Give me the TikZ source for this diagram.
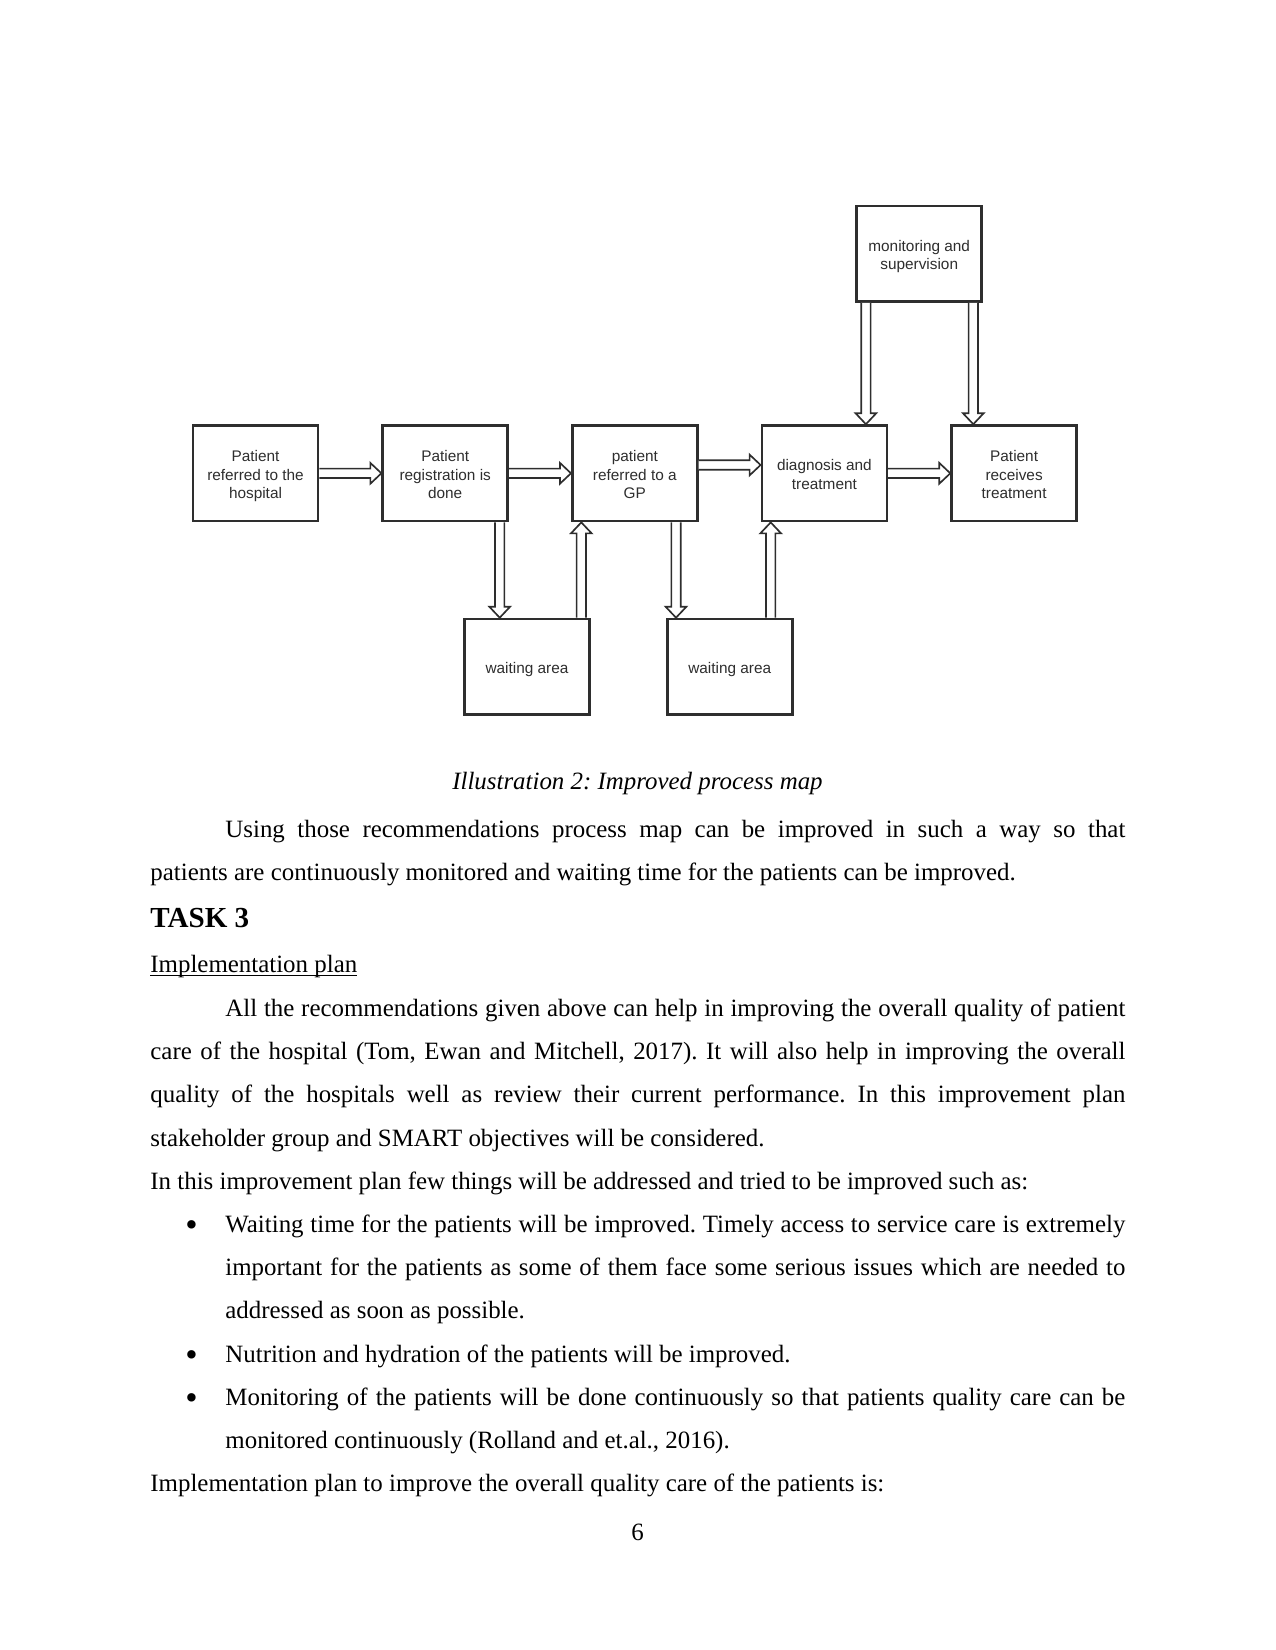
\documentclass[tikz,border=0pt]{standalone}
\usepackage{fontspec}
\setmainfont{Liberation Serif}
\newfontfamily\diagfont{Liberation Sans}
\usepackage{tikz}
\usetikzlibrary{calc}
\definecolor{boxc}{HTML}{2E2E2E}
\frenchspacing

% hollow block arrow from #1 to #2
\newcommand\fatarrow[2]{%
  \path (#1) coordinate (fa-s) (#2) coordinate (fa-e);
  \coordinate (fa-h) at ($(fa-e)!5.3pt!(fa-s)$);
  \filldraw[fa] ($(fa-s)!2.25pt!90:(fa-e)$) -- ($(fa-h)!2.25pt!90:(fa-e)$)
    -- ($(fa-h)!5pt!90:(fa-e)$) -- (fa-e) -- ($(fa-h)!5pt!-90:(fa-e)$)
    -- ($(fa-h)!2.25pt!-90:(fa-e)$) -- ($(fa-s)!2.25pt!-90:(fa-e)$);}
\newcommand\boxtxt[1]{\raisebox{-1.5pt}[\height][\depth]{\begin{tabular}{@{}c@{}}#1\end{tabular}}}
\newcommand\fullln[1]{\makebox[469.75pt][s]{#1}}
\newcommand\indln[1]{\makebox[433.6pt][s]{#1}}

\begin{document}
\begin{tikzpicture}[x=0.4818pt,y=-0.4818pt,
  n/.style={draw=boxc,line width=1.3pt,minimum width=60.2pt,minimum height=46pt,inner sep=1pt,text=boxc,font=\diagfont\fontsize{7.4}{8.7}\selectfont},
  fa/.style={draw=boxc,fill=white,line width=0.8pt},
  tx/.style={anchor=base west,inner sep=0,font=\fontsize{12}{14}\selectfont},
  bul/.style={anchor=center,inner sep=0,font=\fontsize{17}{17}\selectfont}]
\fill[white] (0,0) rectangle (1275,1650);
\useasboundingbox (0,0) rectangle (1275,1650);
% process map
\node[n] (r) at (255.5,473.3)  {\boxtxt{Patient\\referred to the\\hospital}};
\node[n] (g) at (445.2,473.3)  {\boxtxt{Patient\\registration is\\done}};
\node[n] (p) at (634.8,473.3)  {\boxtxt{patient\\referred to a\\GP}};
\node[n] (d) at (824.4,473.3)  {\boxtxt{diagnosis and\\treatment}};
\node[n] (t) at (1014.1,473.3) {\boxtxt{Patient\\receives\\treatment}};
\node[n] (m) at (919.2,253.7)  {\boxtxt{monitoring and\\supervision}};
\node[n] (w1) at (527,666.8)   {\boxtxt{waiting area}};
\node[n] (w2) at (729.7,666.8) {\boxtxt{waiting area}};
\fatarrow{r.east}{g.west}
\fatarrow{g.east}{p.west}
\fatarrow{$(p.east)+(0,-8.3)$}{$(d.west)+(0,-8.3)$}
\fatarrow{d.east}{t.west}
\coordinate (md) at ($(m.south)+(-53.3,0)$);
\coordinate (mt) at ($(m.south)+(54.1,0)$);
\coordinate (gw) at ($(g.south)+(54.5,0)$);
\coordinate (wp) at ($(w1.north)+(54.3,0)$);
\coordinate (pw) at ($(p.south)+(41.2,0)$);
\coordinate (wd) at ($(w2.north)+(41,0)$);
\fatarrow{md}{md |- d.north}
\fatarrow{mt}{mt |- t.north}
\fatarrow{gw}{gw |- w1.north}
\fatarrow{wp}{wp |- p.south}
\fatarrow{pw}{pw |- w2.north}
\fatarrow{wd}{wd |- d.south}
% page text
\node[tx,anchor=base] (cap) at (637.5,789) {\itshape Illustration 2: Improved process map};
\node[tx] (l1) at (225,837.5) {\indln{Using those recommendations process map can be improved in such a way so that}};
\node[tx] (l2) at (150,880.5) {patients are continuously monitored and waiting time for the patients can be improved.};
\node[tx,font=\fontsize{14}{16}\selectfont\bfseries] (task) at (150,927.5) {TASK 3};
\node[tx] (impl) at (150,972.5) {\underline{\smash{Implementation plan}}};
\node[tx] (l3) at (225,1016.5) {\indln{All the recommendations given above can help in improving the overall quality of patient}};
\node[tx] (l4) at (150,1059.7) {\fullln{care of the hospital (Tom, Ewan and Mitchell, 2017). It will also help in improving the overall}};
\node[tx] (l5) at (150,1102.9) {\fullln{quality of the hospitals well as review their current performance. In this improvement plan}};
\node[tx] (l6) at (150,1146.1) {stakeholder group and SMART objectives will be considered.};
\node[tx] (l7) at (150,1189.3) {In this improvement plan few things will be addressed and tried to be improved such as:};
\node[bul] (b1) at (191.5,1228.5) {\textbullet};
\node[tx] (l8) at (225,1232.5) {\indln{Waiting time for the patients will be improved. Timely access to service care is extremely}};
\node[tx] (l9) at (225,1275.7) {\indln{important for the patients as some of them face some serious issues which are needed to}};
\node[tx] (l10) at (225,1318.9) {addressed as soon as possible.};
\node[bul] (b2) at (191.5,1358.1) {\textbullet};
\node[tx] (l11) at (225,1362.1) {Nutrition and hydration of the patients will be improved.};
\node[bul] (b3) at (191.5,1401.3) {\textbullet};
\node[tx] (l12) at (225,1405.3) {\indln{Monitoring of the patients will be done continuously so that patients quality care can be}};
\node[tx] (l13) at (225,1448.5) {monitored continuously (Rolland and et.al., 2016).};
\node[tx] (l14) at (150,1491.7) {Implementation plan to improve the overall quality care of the patients is:};
\node[tx,anchor=base] (pg) at (637.5,1540) {6};
\end{tikzpicture}
\end{document}
